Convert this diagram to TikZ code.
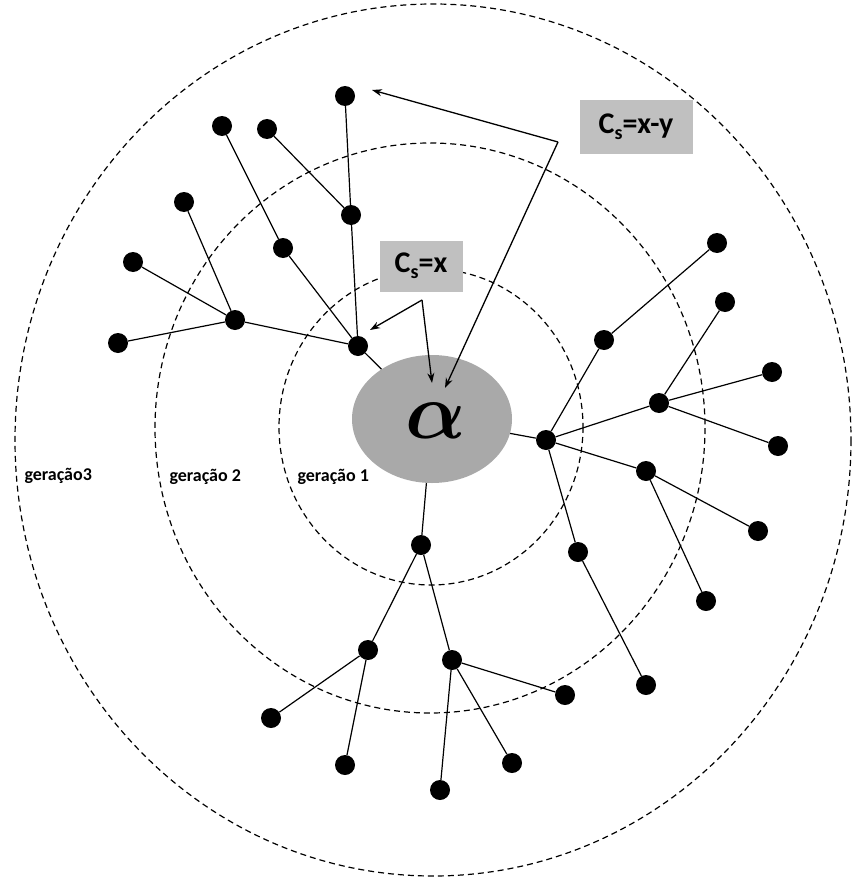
\documentclass[tikz,border=0pt]{standalone}
\usepackage{fontspec}
\setmainfont{Carlito}
\usepackage{bm}
\usetikzlibrary{arrows.meta,shapes.geometric}
\definecolor{bluegray}{HTML}{A9A9A9}
\definecolor{boxgray}{HTML}{C0C0C0}
\begin{document}
\begin{tikzpicture}[x=1pt,y=-1pt,
  dot/.style={circle,fill=black,inner sep=0pt,minimum size=20pt},
  ring/.style={line width=1.2pt,dash pattern=on 6pt off 4pt},
  edge/.style={line width=1.2pt},
  arr/.style={line width=1.3pt,-{Stealth[length=10pt,width=7pt]}},
  gen/.style={font=\bfseries\fontsize{18}{18}\selectfont,anchor=west},
  cbox/.style={fill=boxgray,inner sep=0pt,font=\bfseries\fontsize{30}{30}\selectfont},
  hub/.style={ellipse,fill=bluegray,minimum width=160pt,minimum height=128pt,inner sep=0pt}]
\useasboundingbox (0,0) rectangle (851,880);
% rings
\draw[ring] (433,440) ellipse [x radius=418, y radius=436];
\draw[ring] (430,428) ellipse [x radius=275, y radius=285];
\draw[ring] (431,427) ellipse [x radius=152, y radius=158];
% centre
\node[hub] (A) at (432,419) {};
\node (alpha) at (436,421) {\scalebox{3.2}{\Huge$\bm{\alpha}$}};
% upper-left cluster
\node[dot] (n1) at (358,346) {};
\node[dot] (n2) at (235,320) {};
\node[dot] (n2a) at (118,343) {};
\node[dot] (n2b) at (133,262) {};
\node[dot] (n2c) at (184,202) {};
\node[dot] (n3) at (351,215) {};
\node[dot] (n3a) at (345,96) {};
\node[dot] (n3b) at (267,129) {};
\node[dot] (n4) at (283,248) {};
\node[dot] (n4a) at (222,126) {};
% right cluster
\node[dot] (r1) at (546,440) {};
\node[dot] (r2) at (604,340) {};
\node[dot] (r2a) at (717,243) {};
\node[dot] (r3) at (659,403) {};
\node[dot] (r3a) at (725,302) {};
\node[dot] (r3b) at (772,372) {};
\node[dot] (r3c) at (778,446) {};
\node[dot] (r4) at (646,471) {};
\node[dot] (r4a) at (758,531) {};
\node[dot] (r4b) at (706,601) {};
\node[dot] (r5) at (578,552) {};
\node[dot] (r5a) at (646,685) {};
% bottom cluster
\node[dot] (b1) at (421,545) {};
\node[dot] (b2) at (368,650) {};
\node[dot] (b2a) at (271,718) {};
\node[dot] (b2b) at (345,765) {};
\node[dot] (b3) at (452,660) {};
\node[dot] (b3a) at (565,695) {};
\node[dot] (b3b) at (512,763) {};
\node[dot] (b3c) at (440,790) {};
% edges
\draw[edge] (A) -- (n1);
\draw[edge] (n1) -- (n2) (n1) -- (n3) (n1) -- (n4);
\draw[edge] (n2) -- (n2a) (n2) -- (n2b) (n2) -- (n2c);
\draw[edge] (n3) -- (n3a) (n3) -- (n3b);
\draw[edge] (n4) -- (n4a);
\draw[edge] (A) -- (r1);
\draw[edge] (r1) -- (r2) (r1) -- (r3) (r1) -- (r4) (r1) -- (r5);
\draw[edge] (r2) -- (r2a);
\draw[edge] (r3) -- (r3a) (r3) -- (r3b) (r3) -- (r3c);
\draw[edge] (r4) -- (r4a) (r4) -- (r4b);
\draw[edge] (r5) -- (r5a);
\draw[edge] (A) -- (b1);
\draw[edge] (b1) -- (b2) (b1) -- (b3);
\draw[edge] (b2) -- (b2a) (b2) -- (b2b);
\draw[edge] (b3) -- (b3a) (b3) -- (b3b) (b3) -- (b3c);
% labels
\node[cbox,minimum width=113pt,minimum height=53pt] (L1) at (636,127) {C\raisebox{-6pt}{\fontsize{20}{20}\selectfont s}=x-y};
\node[cbox,minimum width=83pt,minimum height=51pt] (L2) at (421,266) {C\raisebox{-6pt}{\fontsize{20}{20}\selectfont s}=x};
\coordinate (v1) at (558,142);
\coordinate (t1) at (372,90);
\coordinate (t2) at (445,388);
\draw[arr] (v1) -- (t1);
\draw[arr] (v1) -- (t2);
\coordinate (v2) at (422,300);
\coordinate (t3) at (370,330);
\coordinate (t4) at (432,383);
\draw[arr] (v2) -- (t3);
\draw[arr] (v2) -- (t4);
\node[gen] (g3) at (21,476) {geração3};
\node[gen] (g2) at (166,477) {geração 2};
\node[gen] (g1) at (294,477) {geração 1};
\end{tikzpicture}
\end{document}
